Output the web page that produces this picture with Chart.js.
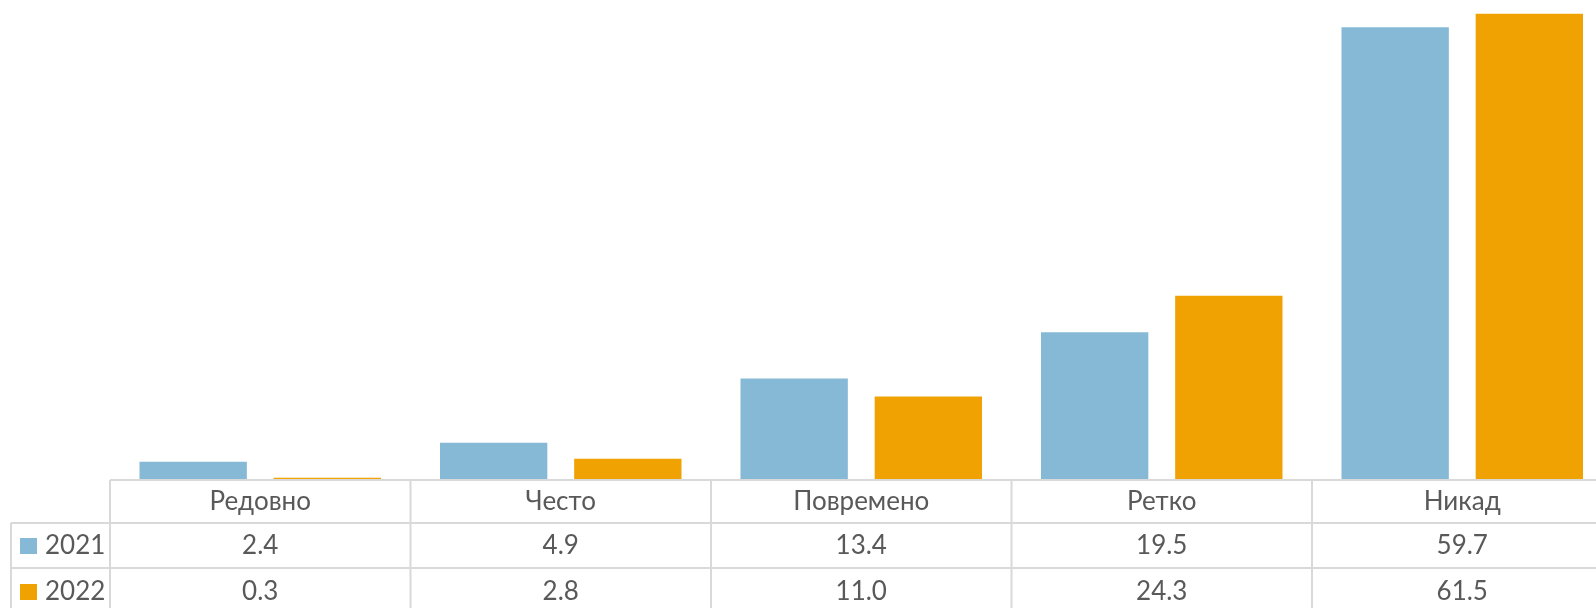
<!DOCTYPE html>
<html>
<head>
<meta charset="utf-8">
<script src="https://cdn.jsdelivr.net/npm/chart.js@4/dist/chart.umd.min.js"></script>
<style>
  html, body { margin: 0; padding: 0; background: #fff; overflow: hidden; }
  #wrap { width: 1620px; height: 608px; }
</style>
</head>
<body>
<div id="wrap"><canvas id="chart" width="1620" height="608"></canvas></div>
<script>
const categories = ["Редовно", "Често", "Повремено", "Ретко", "Никад"];
const seriesLabels = ["2021", "2022"];
const values2021 = [2.4, 4.9, 13.4, 19.5, 59.7];
const values2022 = [0.3, 2.8, 11.0, 24.3, 61.5];
const colors = ["#86B9D6", "#F0A202"];

const FONT = "Lato, 'Open Sans', sans-serif";
const TEXT = "#595959";
const GRID = "#d9d9d9";

// draws the data table under the plot, aligned to the category scale
const dataTable = {
  id: "dataTable",
  afterDraw(chart) {
    const ctx = chart.ctx;
    const area = chart.chartArea;
    const x = chart.scales.x;
    const n = categories.length;
    const step = (area.right - area.left) / n;
    const top = area.bottom;
    const rowH = [43, 45, 45];
    const y1 = top + rowH[0];
    const y2 = y1 + rowH[1];
    const bottom = chart.height + 5;
    const legendLeft = 11;

    ctx.save();
    ctx.strokeStyle = GRID;
    ctx.lineWidth = 2;
    ctx.beginPath();
    ctx.moveTo(area.left, top); ctx.lineTo(chart.width, top);
    ctx.moveTo(legendLeft, y1); ctx.lineTo(chart.width, y1);
    ctx.moveTo(legendLeft, y2); ctx.lineTo(chart.width, y2);
    ctx.moveTo(legendLeft, y1); ctx.lineTo(legendLeft, bottom);
    for (let i = 0; i <= n; i++) {
      const bx = area.left + i * step;
      ctx.moveTo(bx, top); ctx.lineTo(bx, bottom);
    }
    ctx.stroke();

    ctx.fillStyle = TEXT;
    ctx.font = "26px " + FONT;
    ctx.textAlign = "center";
    ctx.textBaseline = "middle";
    const rows = [values2021, values2022];
    categories.forEach((c, i) => {
      const cx = x.getPixelForValue(i);
      ctx.fillText(c, cx, top + 22);
      ctx.fillText(rows[0][i].toFixed(1), cx, y1 + 23);
      ctx.fillText(rows[1][i].toFixed(1), cx, y2 + 24);
    });

    ctx.textAlign = "left";
    const rowY = [y1 + 23, y2 + 24];
    seriesLabels.forEach((s, i) => {
      ctx.fillStyle = colors[i];
      ctx.fillRect(20, rowY[i] - 8, 17, 16);
      ctx.fillStyle = TEXT;
      ctx.fillText(s, 45, rowY[i]);
    });
    ctx.restore();
  }
};

new Chart(document.getElementById("chart"), {
  type: "bar",
  data: {
    labels: categories,
    datasets: [
      { label: seriesLabels[0], data: values2021, backgroundColor: colors[0] },
      { label: seriesLabels[1], data: values2022, backgroundColor: colors[1] }
    ]
  },
  options: {
    responsive: false,
    animation: false,
    layout: { padding: { left: 110, right: 7.5, top: 0, bottom: 128 } },
    datasets: { bar: { categoryPercentage: 0.893, barPercentage: 0.8 } },
    plugins: { legend: { display: false }, tooltip: { enabled: false } },
    scales: {
      x: { display: false },
      y: { display: false, min: 0, max: 63.3 }
    }
  },
  plugins: [dataTable]
});
</script>
</body>
</html>
